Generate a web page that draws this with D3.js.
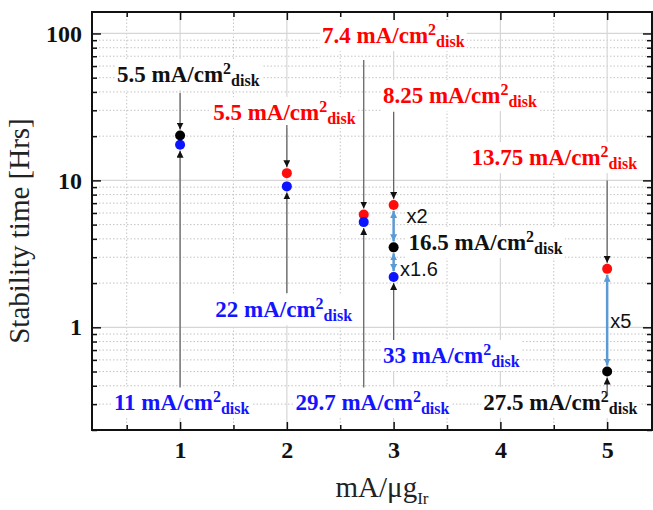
<!DOCTYPE html>
<html>
<head>
<meta charset="utf-8">
<script src="https://cdn.jsdelivr.net/npm/d3@7"></script>
<style>
  body { margin: 0; background: #fff; }
  .tick text { font-family: "Liberation Serif", serif; font-weight: bold; font-size: 24px; fill: #111; }
  .tick line { stroke: #111; stroke-width: 1.5; }
</style>
</head>
<body>
<script>
// ---- data ----
var redX = [2, 2.72, 3, 5];
var redY = [11.2, 5.85, 6.8, 2.5];
var blueX = [1, 2, 2.72, 3];
var blueY = [17.5, 9.1, 5.2, 2.2];
var blackX = [1, 3, 5];
var blackY = [20.2, 3.5, 0.5];

var xTicks = [1, 2, 3, 4, 5];
var xMinor = [0.5, 1.5, 2.5, 3.5, 4.5];
var yTicks = [1, 10, 100];

// current density labels (mA/cm2 disk)
var labelText = ["5.5", "5.5", "7.4", "8.25", "13.75", "16.5", "22", "11", "29.7", "33", "27.5"];
var labelColor = ["#111", "red", "red", "red", "red", "#111", "#1414ff", "#1414ff", "#1414ff", "#1414ff", "#111"];
// label anchor (x value, baseline y value)
var labelX = [0.41, 1.31, 2.33, 2.90, 3.73, 3.14, 1.33, 0.38, 2.08, 2.90, 3.84];
var labelY = [46.7, 25.8, 86, 33.6, 12.7, 3.36, 1.17, 0.274, 0.274, 0.571, 0.274];

// grey pointer arrows: x, start value, target value
var pointerX = [1, 1, 2, 2, 2.72, 2.72, 3, 3, 5, 5];
var pointerFrom = [39.3, 0.39, 23.8, 1.71, 66, 0.39, 29.2, 0.82, 10.0, 0.346];
var pointerTo = [20.2, 17.5, 11.2, 9.1, 5.85, 5.2, 6.8, 2.2, 2.5, 0.5];

// ratio arrows between points
var ratioX = [3, 3, 5];
var ratioFrom = [6.8, 3.5, 2.5];
var ratioTo = [3.5, 2.2, 0.5];
var ratioText = ["x2", "x1.6", "x5"];
var ratioLabelX = [3.12, 3.06, 5.03];
var ratioLabelY = [5.13, 2.23, 0.99];

window.onload = function(){
    var width = 653, height = 510;
    var left = 92, right = 652, top = 12, bottom = 430;

    var svg = d3.select("body").append("svg")
        .attr("width", width)
        .attr("height", height);

    var x = d3.scaleLinear().domain([0.175, 5.42]).range([left, right]);
    var y = d3.scaleLog().domain([0.2, 140]).range([bottom, top]);

    var yMinor = [];
    [0.1, 1, 10].forEach(function(dec){
        for (var k = 2; k <= 9; k++) {
            var v = +(dec * k).toPrecision(3);
            if (v >= 0.2 && v <= 140) yMinor.push(v);
        }
    });

    // grid
    var grid = svg.append("g").attr("class", "grid");
    grid.selectAll(".hminor").data(yMinor).enter().append("line")
        .attr("x1", left).attr("x2", right)
        .attr("y1", function(d){ return y(d); }).attr("y2", function(d){ return y(d); })
        .style("stroke", "#c4c4c4").style("stroke-dasharray", "1.5,2").style("stroke-width", 1);
    grid.selectAll(".vminor").data(xMinor).enter().append("line")
        .attr("y1", top).attr("y2", bottom)
        .attr("x1", function(d){ return x(d); }).attr("x2", function(d){ return x(d); })
        .style("stroke", "#c4c4c4").style("stroke-dasharray", "1.5,2").style("stroke-width", 1);
    grid.selectAll(".hmajor").data(yTicks).enter().append("line")
        .attr("x1", left).attr("x2", right)
        .attr("y1", function(d){ return y(d); }).attr("y2", function(d){ return y(d); })
        .style("stroke", "#d6d6d6").style("stroke-width", 1.2);
    grid.selectAll(".vmajor").data(xTicks).enter().append("line")
        .attr("y1", top).attr("y2", bottom)
        .attr("x1", function(d){ return x(d); }).attr("x2", function(d){ return x(d); })
        .style("stroke", "#d6d6d6").style("stroke-width", 1.2);

    // markers
    var defs = svg.append("defs");
    defs.append("marker").attr("id", "blackHead")
        .attr("viewBox", "0 0 10 10").attr("refX", 10).attr("refY", 5)
        .attr("markerWidth", 7).attr("markerHeight", 7).attr("markerUnits", "userSpaceOnUse")
        .attr("orient", "auto")
        .append("path").attr("d", "M0,0 L10,5 L0,10 Z").style("fill", "#111");
    defs.append("marker").attr("id", "blueHead")
        .attr("viewBox", "0 0 10 10").attr("refX", 10).attr("refY", 5)
        .attr("markerWidth", 7).attr("markerHeight", 7).attr("markerUnits", "userSpaceOnUse")
        .attr("orient", "auto-start-reverse")
        .append("path").attr("d", "M0,0 L10,5 L0,10 Z").style("fill", "#5b9bd5");

    // labels with white background
    var labels = svg.append("g").attr("class", "labels");
    labelText.forEach(function(t, i){
        var g = labels.append("g");
        var txt = g.append("text")
            .attr("x", x(labelX[i]))
            .attr("y", y(labelY[i]))
            .style("font-family", "Liberation Serif, serif")
            .style("font-weight", "bold")
            .style("font-size", "23px")
            .style("fill", labelColor[i]);
        txt.append("tspan").text(t + " mA/cm");
        txt.append("tspan").attr("dy", -8).style("font-size", "16px").text("2");
        txt.append("tspan").attr("dy", 12).style("font-size", "16px").text("disk");
        var b = txt.node().getBBox();
        g.insert("rect", "text")
            .attr("x", b.x - 2).attr("y", b.y - 1)
            .attr("width", b.width + 4).attr("height", b.height + 2)
            .style("fill", "#fff");
    });

    // grey pointer arrows
    var pointers = svg.append("g").attr("class", "pointers");
    pointerX.forEach(function(px, i){
        var y0 = y(pointerFrom[i]), y1 = y(pointerTo[i]);
        var dir = y1 > y0 ? 1 : -1;
        pointers.append("line")
            .attr("x1", x(px)).attr("x2", x(px))
            .attr("y1", y0).attr("y2", y1 - dir * 6)
            .style("stroke", "#666").style("stroke-width", 1.3)
            .attr("marker-end", "url(#blackHead)");
    });

    // ratio arrows
    var ratios = svg.append("g").attr("class", "ratios");
    ratioX.forEach(function(rx, i){
        ratios.append("line")
            .attr("x1", x(rx)).attr("x2", x(rx))
            .attr("y1", y(ratioFrom[i]) + 6).attr("y2", y(ratioTo[i]) - 6)
            .style("stroke", "#5b9bd5").style("stroke-width", 2.5)
            .attr("marker-start", "url(#blueHead)")
            .attr("marker-end", "url(#blueHead)");
        ratios.append("text")
            .attr("x", x(ratioLabelX[i])).attr("y", y(ratioLabelY[i]))
            .style("font-family", "Liberation Sans, Arial, sans-serif")
            .style("font-size", "20px")
            .style("fill", "#111")
            .text(ratioText[i]);
    });

    // points
    var pts = svg.append("g").attr("class", "points");
    function drawSeries(xs, ys, col){
        pts.selectAll(null).data(xs).enter().append("circle")
            .attr("cx", function(d){ return x(d); })
            .attr("cy", function(d, i){ return y(ys[i]); })
            .attr("r", 5)
            .style("fill", col);
    }
    drawSeries(redX, redY, "#ff0d0d");
    drawSeries(blueX, blueY, "#0a14ff");
    drawSeries(blackX, blackY, "#000");

    // axes (ticks pointing inward)
    svg.append("g").attr("transform", "translate(0," + bottom + ")")
        .call(d3.axisBottom(x).tickValues(xTicks).tickSize(-8).tickPadding(11).tickFormat(d3.format("d")))
        .call(function(g){ g.select(".domain").remove(); });
    svg.append("g").attr("transform", "translate(0," + bottom + ")")
        .call(d3.axisBottom(x).tickValues(xMinor).tickSize(-5).tickFormat(""))
        .call(function(g){ g.select(".domain").remove(); });
    svg.append("g").attr("transform", "translate(0," + top + ")")
        .call(d3.axisTop(x).tickValues(xTicks).tickSize(-8).tickFormat(""))
        .call(function(g){ g.select(".domain").remove(); });
    svg.append("g").attr("transform", "translate(0," + top + ")")
        .call(d3.axisTop(x).tickValues(xMinor).tickSize(-5).tickFormat(""))
        .call(function(g){ g.select(".domain").remove(); });
    svg.append("g").attr("transform", "translate(" + left + ",0)")
        .call(d3.axisLeft(y).tickValues(yTicks).tickSize(-9).tickPadding(10).tickFormat(d3.format("d")))
        .call(function(g){ g.select(".domain").remove(); });
    svg.append("g").attr("transform", "translate(" + left + ",0)")
        .call(d3.axisLeft(y).tickValues(yMinor).tickSize(-5).tickFormat(""))
        .call(function(g){ g.select(".domain").remove(); });
    svg.append("g").attr("transform", "translate(" + right + ",0)")
        .call(d3.axisRight(y).tickValues(yTicks).tickSize(-9).tickFormat(""))
        .call(function(g){ g.select(".domain").remove(); });
    svg.append("g").attr("transform", "translate(" + right + ",0)")
        .call(d3.axisRight(y).tickValues(yMinor).tickSize(-5).tickFormat(""))
        .call(function(g){ g.select(".domain").remove(); });

    // frame
    svg.append("rect")
        .attr("x", left).attr("y", top)
        .attr("width", right - left).attr("height", bottom - top)
        .style("fill", "none").style("stroke", "#111").style("stroke-width", 2);

    // axis titles
    svg.append("text")
        .attr("transform", "translate(29," + ((top + bottom) / 2 + 10) + ") rotate(-90)")
        .attr("text-anchor", "middle")
        .style("font-family", "Liberation Serif, serif")
        .style("font-size", "29px")
        .style("fill", "#222")
        .text("Stability time [Hrs]");
    var xt = svg.append("text")
        .attr("x", 382).attr("y", 497)
        .attr("text-anchor", "middle")
        .style("font-family", "Liberation Serif, serif")
        .style("font-size", "29px")
        .style("fill", "#222");
    xt.append("tspan").text("mA/μg");
    xt.append("tspan").attr("dy", 7).style("font-size", "17px").text("Ir");
};
</script>
</body>
</html>
